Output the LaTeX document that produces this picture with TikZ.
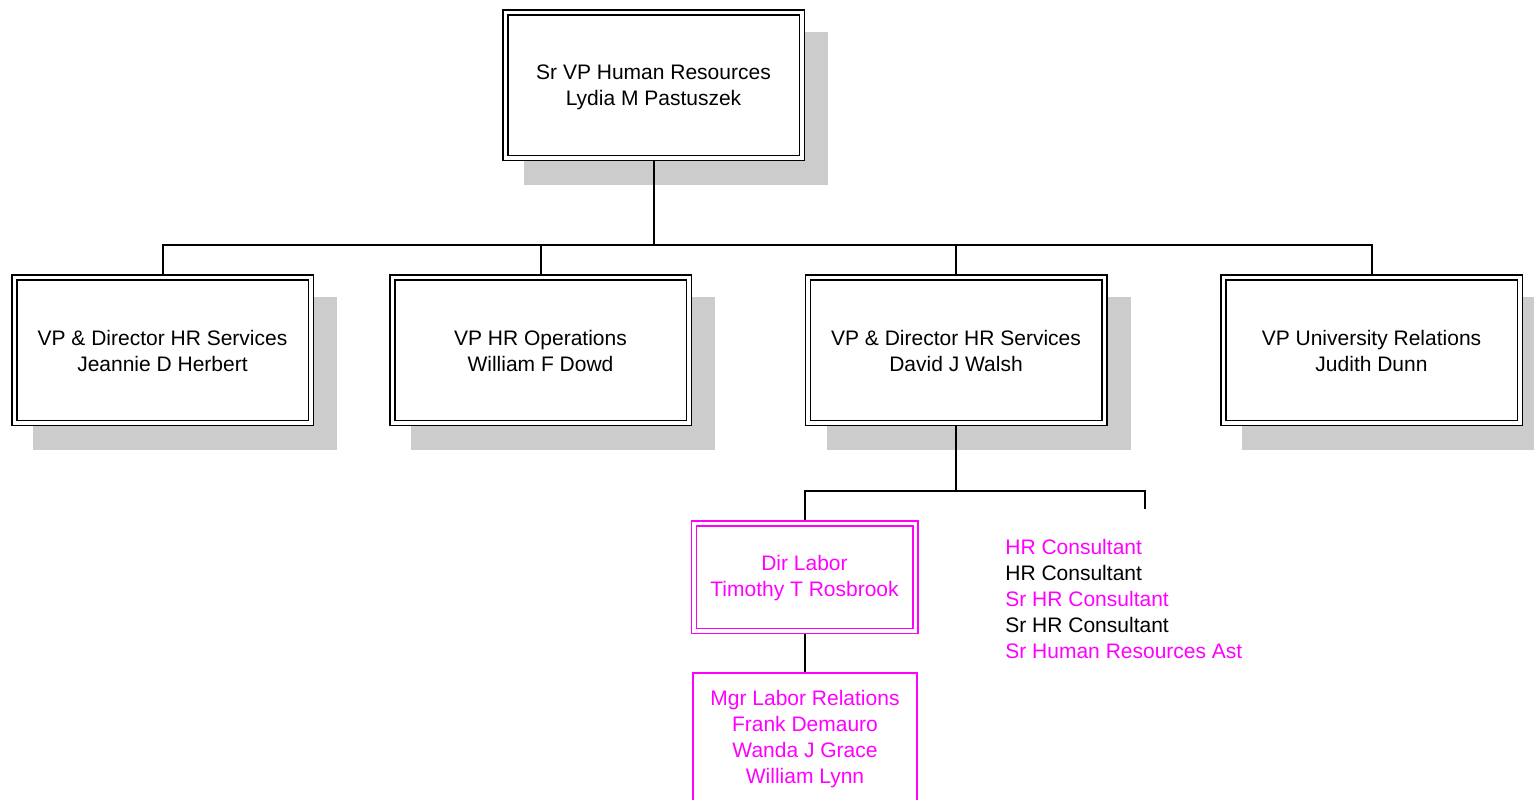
\documentclass[tikz,border=0pt]{standalone}
\usepackage{fontspec}
\setmainfont{Liberation Sans}
\usetikzlibrary{backgrounds}
\definecolor{shade}{HTML}{CCCCCC}
\definecolor{mag}{HTML}{FF00FF}
\begin{document}
\begin{tikzpicture}[x=0.5pt,y=-0.5pt,
  txt/.style={font=\fontsize{10.5}{13}\selectfont},
  lbl/.style={txt, align=center, inner sep=0pt},
  box/.style={draw, double=white, double distance=1.75pt, line width=0.75pt,
    fill=white, inner sep=0pt, outer sep=0pt,
    minimum width=148.25pt, minimum height=72.75pt},
  magbox/.style={box, draw=mag, minimum width=110.75pt, minimum height=53.75pt},
  magsingle/.style={draw=mag, line width=1pt, fill=white,
    inner sep=0pt, outer sep=0pt, minimum width=112pt, minimum height=65.5pt},
  conn/.style={line width=1pt, black},
  shadowfill/.style={fill=shade}]
\useasboundingbox (0,0) rectangle (1534,799);

\node[box] (top) at (653.5,85) {};
\node[box] (b1) at (162.5,350) {};
\node[box] (b2) at (540.5,350) {};
\node[box] (b3) at (956,350) {};
\node[box] (b4) at (1371.5,350) {};
\node[magbox] (dir) at (804.5,577) {};
\node[magsingle] (mgr) at (804.5,738.5) {};

\node[lbl] (topt) at (653.5,87) {Sr VP Human Resources\\Lydia M Pastuszek};
\node[lbl] (b1t) at (162.5,351) {VP \& Director HR Services\\Jeannie D Herbert};
\node[lbl] (b2t) at (540.5,351) {VP HR Operations\\William F Dowd};
\node[lbl] (b3t) at (956,351) {VP \& Director HR Services\\David J Walsh};
\node[lbl] (b4t) at (1371.5,351) {VP University Relations\\Judith Dunn};
\node[lbl, text=mag] (dirt) at (804.5,578) {Dir Labor\\Timothy T Rosbrook};
\node[lbl, text=mag] (mgrt) at (805,739) {Mgr Labor Relations\\Frank Demauro\\Wanda J Grace\\William Lynn};
\node[txt, anchor=north west, align=left, inner sep=0pt] (list) at (1005,539)
  {\textcolor{mag}{HR Consultant}\\HR Consultant\\\textcolor{mag}{Sr HR Consultant}\\Sr HR Consultant\\\textcolor{mag}{Sr Human Resources Ast}};

\coordinate (stub) at (1145,509);

\begin{pgfonlayer}{background}
  \fill[white] (0,0) rectangle (1534,799);
  \foreach \n in {top,b1,b2,b3,b4}{
    \fill[shadowfill] ([shift={(19,19.5)}]\n.north west) rectangle ([shift={(26.5,27)}]\n.south east);
  }
  \draw[conn] (top.south) -- ++(0,87) -| (b1.north);
  \draw[conn] (top.south) ++(0,87) -| (b2.north);
  \draw[conn] (top.south) ++(0,87) -| (b3.north);
  \draw[conn] (top.south) ++(0,87) -| (b4.north);
  \draw[conn] (b3.south) -- ++(0,68) -| (dir.north);
  \draw[conn] (b3.south) ++(0,68) -| (stub);
  \draw[conn] (dir.south) -- (mgr.north);
\end{pgfonlayer}
\end{tikzpicture}
\end{document}
